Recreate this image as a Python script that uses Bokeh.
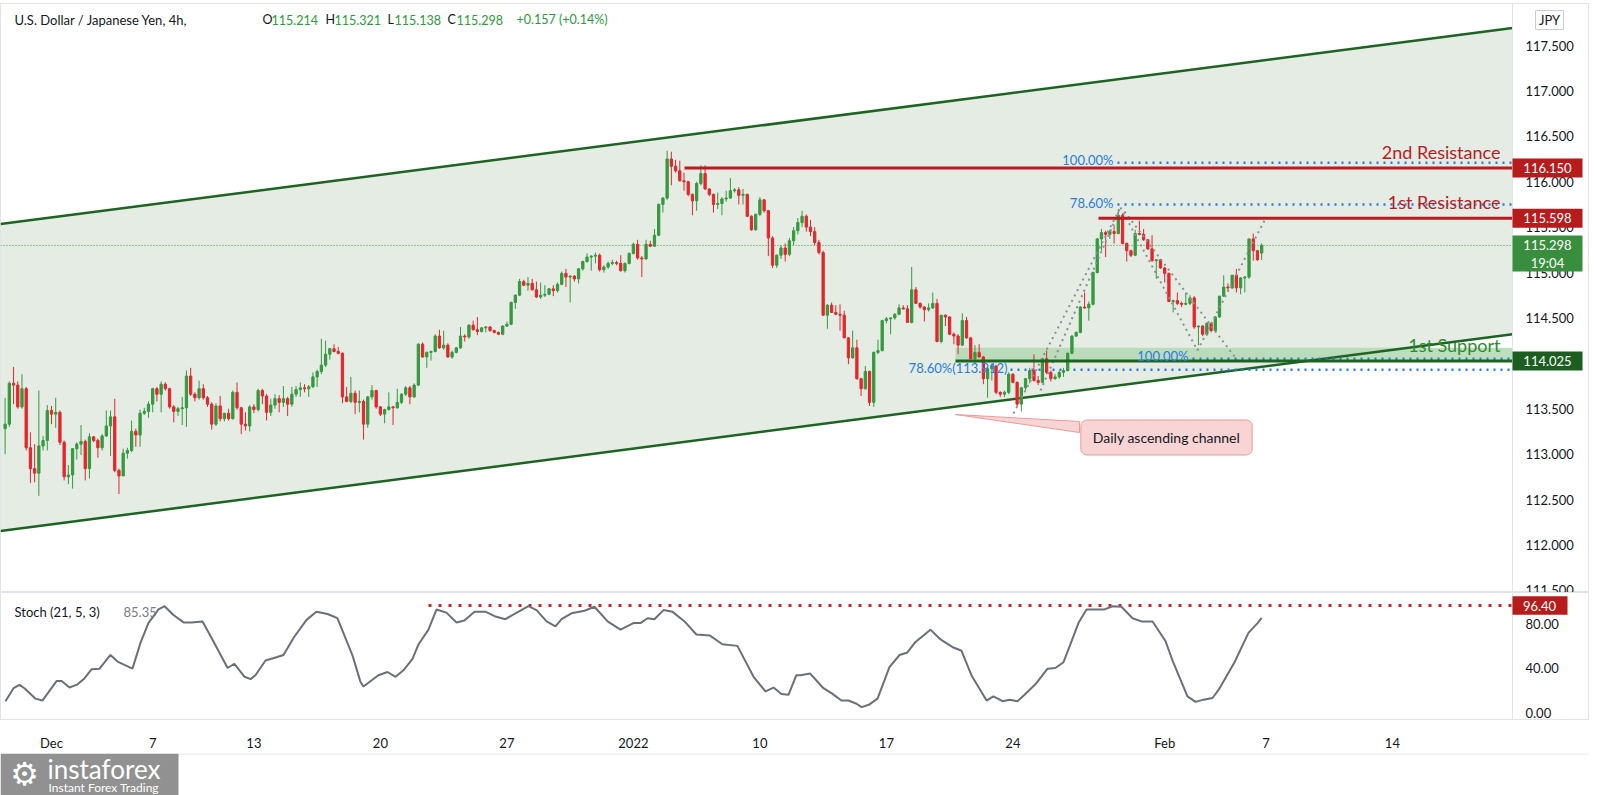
from bokeh.plotting import figure
from bokeh.layouts import column
from bokeh.models import Label, FixedTicker, Range1d, ColumnDataSource
from bokeh.core.properties import value
from bokeh.embed import file_html
from bokeh.resources import INLINE

# ---------------- DATA ----------------
bar_open = [
113.28,113.33,113.78,113.76,113.52,113.72,113.07,112.84,112.79,113.09,
113.15,113.48,113.44,113.46,113.13,112.75,112.77,113.06,113.11,113.14,
112.84,113.19,113.15,113.07,113.20,113.31,113.41,112.82,112.76,113.01,
113.04,113.25,113.21,113.45,113.47,113.55,113.72,113.66,113.77,113.72,
113.52,113.47,113.50,113.51,113.86,113.66,113.62,113.72,113.62,113.55,
113.33,113.53,113.39,113.45,113.39,113.68,113.51,113.33,113.31,113.52,
113.49,
113.70,113.64,113.46,113.54,113.61,113.57,113.61,113.55,113.66,113.71,
113.73,113.72,113.74,113.85,113.91,113.98,114.10,114.16,114.13,114.11,
113.63,113.58,113.67,113.57,113.58,113.33,113.63,113.70,113.52,113.44,
113.49,113.52,113.51,113.57,113.66,113.73,113.63,113.76,114.21,114.07,
114.12,114.13,114.30,114.17,114.20,114.07,114.12,114.17,114.30,114.29,
114.42,114.37,114.35,114.39,114.40,114.36,114.34,114.32,114.41,114.43,
114.67,114.75,
114.90,114.86,114.88,114.81,114.73,114.75,114.76,114.82,114.80,114.87,
114.99,114.95,114.96,114.93,115.04,115.12,115.17,115.18,115.19,115.03,
115.06,115.10,115.11,115.10,115.02,115.10,115.21,115.31,115.16,115.15,
115.31,115.29,115.41,115.75,115.82,116.25,116.17,116.12,116.01,116.00,
115.86,115.79,115.98,116.09,115.92,115.86,115.75,115.76,115.81,115.82,
115.90,115.91,115.85,115.86,115.62,115.47,115.64,115.80,115.68,
115.38,115.08,115.19,115.27,115.20,115.35,115.46,115.55,115.62,115.50,115.45,115.33,
115.22,114.53,114.64,114.56,114.54,114.53,114.28,114.06,114.17,113.83,
113.72,113.91,113.57,114.12,114.14,114.47,114.49,114.50,114.54,114.61,
114.60,114.45,114.81,114.66,114.62,114.59,114.61,114.66,114.24,114.53,
114.51,114.32,114.30,114.20,114.47,114.28,114.05,114.12,114.07,113.83,
113.94,113.97,113.68,113.66,113.68,113.88,113.79,
113.55,113.73,113.83,113.92,113.81,113.79,114.05,113.90,113.83,113.85,113.90,113.92,114.11,114.30,114.34,
114.62,114.61,114.65,115.00,115.37,115.44,115.42,115.45,115.43,115.63,
115.32,115.24,115.19,115.43,115.42,115.36,115.26,115.13,115.14,115.05,
114.99,114.68,114.69,114.66,114.65,114.66,114.72,114.40,114.41,114.32,
114.44,114.36,114.51,114.74,114.84,114.83,114.97,114.83,114.94,114.95,
115.37,115.24,115.214]

bar_close = [
113.33,113.78,113.76,113.52,113.72,113.07,112.84,112.79,113.09,113.15,
113.48,113.44,113.46,113.13,112.75,112.77,113.06,113.11,113.14,112.84,
113.19,113.15,113.07,113.20,113.31,113.41,112.82,112.76,113.01,113.04,
113.25,113.21,113.45,113.47,113.55,113.72,113.66,113.77,113.72,113.52,
113.47,113.50,113.51,113.86,113.66,113.62,113.72,113.62,113.55,113.33,
113.53,113.39,113.45,113.39,113.68,113.51,113.33,113.31,113.52,113.49,
113.70,
113.64,113.46,113.54,113.61,113.57,113.61,113.55,113.66,113.71,113.73,
113.72,113.74,113.85,113.91,113.98,114.10,114.16,114.13,114.11,113.63,
113.58,113.67,113.57,113.58,113.33,113.63,113.70,113.52,113.44,113.49,
113.52,113.51,113.57,113.66,113.73,113.63,113.76,114.21,114.07,114.12,
114.13,114.30,114.17,114.20,114.07,114.12,114.17,114.30,114.29,114.42,
114.37,114.35,114.39,114.40,114.36,114.34,114.32,114.41,114.43,114.67,
114.75,114.90,
114.86,114.88,114.81,114.73,114.75,114.76,114.82,114.80,114.87,114.99,
114.95,114.96,114.93,115.04,115.12,115.17,115.18,115.19,115.03,115.06,
115.10,115.11,115.10,115.02,115.10,115.21,115.31,115.16,115.15,115.31,
115.29,115.41,115.75,115.82,116.25,116.17,116.12,116.01,116.00,115.86,
115.79,115.98,116.09,115.92,115.86,115.75,115.76,115.81,115.82,115.90,
115.91,115.85,115.86,115.62,115.47,115.64,115.80,115.68,115.38,
115.08,115.19,115.27,115.20,115.35,115.46,115.55,115.62,115.50,115.45,115.33,115.22,
114.53,114.64,114.56,114.54,114.53,114.28,114.06,114.17,113.83,113.72,
113.91,113.57,114.12,114.14,114.47,114.49,114.50,114.54,114.61,114.60,
114.45,114.81,114.66,114.62,114.59,114.61,114.66,114.24,114.53,114.51,
114.32,114.30,114.20,114.47,114.28,114.05,114.12,114.07,113.83,113.94,
113.97,113.68,113.66,113.68,113.88,113.79,113.55,
113.73,113.83,113.92,113.81,113.79,114.05,113.90,113.83,113.85,113.90,113.92,114.11,114.30,114.34,114.62,
114.61,114.65,115.00,115.37,115.44,115.42,115.45,115.43,115.63,115.32,
115.24,115.19,115.43,115.42,115.36,115.26,115.13,115.14,115.05,114.99,
114.68,114.69,114.66,114.65,114.66,114.72,114.40,114.41,114.32,114.44,
114.36,114.51,114.74,114.84,114.83,114.97,114.83,114.94,114.95,115.37,
115.24,115.14,115.298]

bar_high = [
113.62,113.80,113.96,113.80,113.88,113.74,113.24,113.11,113.70,113.20,
113.54,113.53,113.62,113.48,113.15,112.88,113.06,113.13,113.32,113.16,
113.23,113.20,113.17,113.22,113.48,113.48,113.61,112.84,113.06,113.07,
113.37,113.28,113.49,113.51,113.58,113.73,113.74,113.80,113.79,113.73,
113.54,113.52,113.63,113.92,113.95,113.68,113.81,113.77,113.64,113.57,
113.56,113.64,113.45,113.50,113.70,113.79,113.52,113.46,113.54,113.55,
113.72,
113.72,113.66,113.61,113.66,113.65,113.75,113.63,113.74,113.75,113.79,
113.77,113.76,113.90,113.93,114.27,114.25,114.17,114.21,114.18,114.12,
113.74,113.85,113.70,113.70,113.60,113.64,113.76,113.71,113.53,113.50,
113.68,113.53,113.72,113.67,113.75,113.75,113.78,114.22,114.23,114.13,
114.14,114.32,114.37,114.36,114.22,114.14,114.18,114.40,114.32,114.43,
114.47,114.51,114.40,114.41,114.41,114.37,114.35,114.42,114.46,114.68,
114.76,114.93,
114.92,114.95,114.93,114.90,114.89,114.86,114.83,114.86,114.89,115.01,
115.04,114.97,114.97,115.05,115.13,115.21,115.19,115.22,115.21,115.08,
115.12,115.14,115.13,115.19,115.11,115.22,115.33,115.36,115.18,115.36,
115.35,115.48,115.76,115.83,116.34,116.33,116.24,116.23,116.10,116.01,
115.87,116.00,116.18,116.18,115.93,115.87,115.88,115.83,115.90,116.04,
115.93,115.94,115.92,115.87,115.63,115.65,115.83,115.81,115.69,
115.40,115.20,115.30,115.32,115.38,115.50,115.60,115.68,115.64,115.58,115.50,115.36,
115.24,114.65,114.67,114.64,114.65,114.58,114.29,114.36,114.26,113.84,
113.97,113.92,114.13,114.26,114.48,114.51,114.50,114.55,114.65,114.64,
114.64,115.06,114.84,114.67,114.63,114.66,114.78,114.71,114.53,114.54,
114.52,114.34,114.32,114.55,114.51,114.29,114.20,114.21,114.08,113.95,
114.00,113.98,113.69,113.70,113.90,113.89,113.80,
113.74,113.84,113.95,114.10,113.86,114.06,114.14,113.92,113.88,113.92,113.95,114.12,114.31,114.35,114.63,
114.78,114.68,115.01,115.38,115.48,115.46,115.47,115.52,115.70,115.65,
115.33,115.25,115.47,115.57,115.48,115.37,115.41,115.15,115.15,115.06,
115.00,114.70,114.78,114.68,114.78,114.75,114.74,114.42,114.42,114.45,
114.45,114.52,114.74,114.97,114.88,114.97,115.04,114.95,114.96,115.37,
115.43,115.25,115.321]

bar_low = [
113.00,113.30,113.55,113.50,113.50,113.04,112.68,112.69,112.54,113.04,
113.04,113.33,113.29,113.10,112.71,112.67,112.62,112.94,112.99,112.71,
112.73,113.13,112.96,113.04,113.19,112.98,112.80,112.56,112.76,112.95,
113.02,113.08,113.08,113.43,113.40,113.46,113.58,113.46,113.70,113.50,
113.35,113.42,113.32,113.30,113.64,113.58,113.60,113.60,113.52,113.27,
113.31,113.36,113.36,113.37,113.38,113.49,113.22,113.26,113.25,113.45,
113.47,
113.55,113.37,113.42,113.50,113.46,113.52,113.42,113.52,113.63,113.63,
113.68,113.63,113.73,113.74,113.88,113.96,114.04,114.12,114.10,113.56,
113.57,113.56,113.44,113.46,113.16,113.29,113.60,113.50,113.42,113.34,
113.48,113.32,113.50,113.55,113.64,113.55,113.62,113.75,114.06,113.95,
114.03,114.12,114.16,114.15,114.06,114.05,114.11,114.16,114.24,114.27,
114.36,114.31,114.34,114.34,114.35,114.33,114.31,114.31,114.40,114.42,
114.60,114.74,
114.85,114.80,114.80,114.72,114.71,114.73,114.75,114.74,114.78,114.86,
114.84,114.67,114.90,114.88,115.02,115.11,115.02,115.10,115.01,115.00,
115.04,115.08,115.08,115.01,115.00,115.09,115.20,115.14,114.95,115.14,
115.28,115.28,115.40,115.66,115.80,115.96,116.10,116.00,115.90,115.84,
115.63,115.68,115.96,115.91,115.84,115.66,115.70,115.63,115.78,115.81,
115.88,115.75,115.75,115.61,115.46,115.46,115.62,115.66,115.18,
115.05,115.05,115.15,115.12,115.18,115.30,115.42,115.50,115.45,115.40,115.30,115.20,
114.52,114.38,114.56,114.53,114.36,114.28,113.99,114.05,113.82,113.64,
113.71,113.53,113.52,114.10,114.13,114.44,114.32,114.48,114.53,114.59,
114.45,114.44,114.66,114.60,114.46,114.57,114.60,114.23,114.22,114.41,
114.31,114.21,114.10,114.19,114.27,114.04,113.99,114.06,113.77,113.62,
113.81,113.66,113.63,113.63,113.66,113.78,113.52,
113.47,113.70,113.78,113.80,113.76,113.78,113.88,113.80,113.82,113.83,113.85,113.91,114.10,114.29,114.33,
114.60,114.47,114.64,114.99,115.24,115.17,115.37,115.32,115.42,115.31,
115.12,115.17,115.18,115.41,115.35,115.25,115.12,114.93,115.04,114.89,
114.68,114.56,114.64,114.62,114.64,114.64,114.38,114.20,114.30,114.30,
114.34,114.35,114.50,114.73,114.80,114.82,114.78,114.76,114.78,114.93,
115.13,115.13,115.138]

# stochastic %K (21,5,3), sampled along the time axis (trading days since Nov 29)
stoch_day = [0.18,0.50,0.74,0.93,1.37,1.64,2.20,2.40,2.71,3.03,
3.30,3.58,3.90,4.33,4.61,5.20,5.52,5.83,6.23,6.47,
6.82,7.22,7.53,7.97,8.36,8.96,9.23,9.63,9.87,10.06,
10.46,10.89,11.17,11.57,12.08,12.47,12.91,13.30,13.90,14.21,
14.33,14.92,15.28,15.60,15.91,16.27,16.51,16.90,17.22,17.61,
18.01,18.32,18.72,19.15,19.55,19.94,20.34,20.85,21.17,21.57,
21.92,22.16,22.55,23.07,23.46,23.98,24.49,25.00,25.28,25.56,
25.83,26.19,26.54,27.02,27.49,28.01,28.52,29.11,29.75,30.22,
30.54,30.85,31.13,31.44,31.60,31.99,32.51,32.83,33.22,33.50,
33.82,34.02,34.33,34.65,35.12,35.52,35.83,36.15,36.74,37.14,
37.65,37.97,38.36,38.96,39.23,39.59,39.87,40.18,40.46,40.89,
41.37,41.68,42.00,42.20,42.59,42.91,43.30,43.62,43.94,44.29,
44.73,45.08,45.52,46.03,46.31,46.90,47.22,47.53,47.89,48.13,
48.76,49.31,49.67,49.83]
stoch_val = [10.3,22.0,25.0,22.0,12.6,10.9,28.4,28.4,22.6,25.5,
30.8,39.0,39.6,51.9,46.0,39.6,63.0,80.6,92.9,95.8,
87.9,81.2,81.2,82.1,65.9,40.2,44.0,32.3,30.2,33.7,
46.9,49.8,51.9,67.4,83.5,90.9,88.8,85.0,51.3,27.9,
23.5,33.7,36.6,32.3,38.1,48.4,61.6,74.7,92.9,90.0,
81.2,83.0,90.9,90.9,86.5,84.1,89.4,95.8,92.3,82.1,
77.7,84.1,89.4,91.7,95.3,82.1,74.7,80.6,80.6,85.0,
84.1,92.3,90.9,82.1,70.3,69.5,61.6,60.1,32.3,19.1,
22.6,16.8,16.1,33.7,33.7,35.2,22.0,17.6,10.9,10.9,
8.0,5.0,7.4,12.6,41.0,51.9,54.2,63.6,74.7,65.9,
58.6,55.7,33.7,10.9,14.7,10.3,11.7,10.3,16.1,25.5,
39.6,40.2,45.4,57.2,80.6,92.9,92.9,92.9,95.8,95.3,
85.0,82.1,82.1,64.5,46.9,14.7,9.7,11.7,13.2,20.5,
45.4,71.8,80.6,85.35]

tick_days = [2, 6, 10, 15, 20, 25, 30, 35, 40, 46, 50, 55]
tick_labels = ["Dec", "7", "13", "20", "27", "2022", "10", "17", "24", "Feb", "7", "14"]
price_ticks = [111.5, 112.0, 112.5, 113.0, 113.5, 114.0, 114.5, 115.0, 115.5, 116.0, 116.5, 117.0, 117.5]
stoch_ticks = [0, 40, 80]

channel_upper = [115.533, 117.692]
channel_lower = [112.153, 114.321]
resistance_2 = 116.150
resistance_1 = 115.598
support_1 = 114.025
support_zone_top = 114.17
last_price = 115.298
last_countdown = "19:04"
fib_upper_100 = 116.21
fib_upper_786 = 115.75
fib_lower_100 = 114.05
fib_lower_786 = 113.93
stoch_level = 96.40
stoch_last = 85.35
header_ohlc = [("O", "115.214"), ("H", "115.321"), ("L", "115.138"), ("C", "115.298")]
header_change = "+0.157 (+0.14%)"

# ---------------- GEOMETRY HELPERS (screen px -> data) ----------------
X_PER_DAY = 25.3
X0 = 0.4
PX_PER_PRICE = 90.8
PX_PER_STOCH = 1.1375
def xd(px):
    return (px - X0) / X_PER_DAY
def yp(py):
    return 117.5 - (py - 45) / PX_PER_PRICE
def ys(py):
    return (715 - py) / PX_PER_STOCH

FONT = "Lato"
GREEN = "#36983f"
RED = "#e4262c"
RES_RED = "#bb1a1f"
SUP_GREEN = "#1d6321"
FIB_BLUE = "#2a7be0"
TXT = "#131722"
GRID = "#e0e3eb"
W = 1589
AXL = 1512   # price-scale separator

def lab(fig, x, y, text, color=TXT, size="13px", align="left", font=FONT, **kw):
    fig.add_layout(Label(x=x, y=y, text=text, text_color=color, text_font=font,
                         text_font_size=size, text_align=align, text_baseline="middle", **kw))

# ---------------- MAIN PRICE PANE ----------------
p = figure(width=W, height=592, output_backend="svg", toolbar_location=None,
           x_range=Range1d(xd(0), xd(W)), y_range=Range1d(yp(592), yp(3)),
           x_axis_location=None, y_axis_location=None,
           min_border_left=0, min_border_right=0, min_border_top=3, min_border_bottom=0)
p.grid.visible = False
p.outline_line_color = GRID

ch_x = [xd(0), xd(AXL)]
p.varea(x=ch_x, y1=channel_lower, y2=channel_upper, fill_color="#e4ece4", fill_alpha=1.0)
p.quad(left=xd(955), right=xd(AXL), bottom=support_1, top=support_zone_top,
       fill_color="#b5dab5", fill_alpha=0.9, line_color=None)
p.line(ch_x, channel_upper, line_color=SUP_GREEN, line_width=2.5)
p.line(ch_x, channel_lower, line_color=SUP_GREEN, line_width=2.5)

p.line([xd(0), xd(AXL)], [last_price, last_price], line_color=GREEN, line_width=1, line_dash="1 2")

for lvl, start in [(fib_upper_100, 1117), (fib_upper_786, 1117), (fib_lower_100, 1192), (fib_lower_786, 1010)]:
    p.line([xd(start), xd(AXL)], [lvl, lvl], line_color=FIB_BLUE, line_width=2.5, line_dash="2 5")

n = len(bar_close)
bar_day = [(i + 1) / 6 for i in range(n)]
colors = [GREEN if c >= o else RED for o, c in zip(bar_open, bar_close)]
src = ColumnDataSource(dict(x=bar_day, h=bar_high, l=bar_low,
                            top=[max(o, c) for o, c in zip(bar_open, bar_close)],
                            bottom=[min(o, c) for o, c in zip(bar_open, bar_close)],
                            color=colors))
p.segment(x0="x", y0="l", x1="x", y1="h", line_color="color", line_width=1, source=src)
p.vbar(x="x", width=0.09, top="top", bottom="bottom", fill_color="color", line_color="color",
       line_width=1, source=src)

pat_xs = [[xd(1013), xd(1120)], [xd(1040), xd(1118)], [xd(1120), xd(1197)],
          [xd(1124), xd(1237)], [xd(1197), xd(1265)]]
pat_ys = [[yp(413), yp(207)], [yp(390), yp(212)], [yp(207), yp(350)],
          [yp(211), yp(360)], [yp(350), yp(218)]]
p.multi_line(pat_xs, pat_ys, line_color="#8c8e98", line_width=2, line_dash="2 4")

p.line([xd(684), xd(AXL)], [resistance_2, resistance_2], line_color=RES_RED, line_width=3)
p.line([xd(1098), xd(AXL)], [resistance_1, resistance_1], line_color=RES_RED, line_width=3)
p.line([xd(955), xd(AXL)], [support_1, support_1], line_color=SUP_GREEN, line_width=3)

p.patch([xd(955), xd(1079), xd(1079)], [yp(414), yp(421), yp(432)],
        fill_color="#f8d4d5", line_color="#ea9a9c", line_width=1)
lab(p, xd(1166), yp(437), "Daily ascending channel", size="14px", align="center",
    background_fill_color="#f8d4d5", border_line_color="#ea9a9c",
    border_radius=6, padding=dict(left=12, right=12, top=9, bottom=9))

lab(p, xd(1500), yp(151), "2nd Resistance", color=RES_RED, size="18px", align="right")
lab(p, xd(1500), yp(201), "1st Resistance", color=RES_RED, size="18px", align="right")
lab(p, xd(1500), yp(344), "1st Support", color="#2e8b30", size="18px", align="right")

lab(p, xd(1113), yp(159), "100.00%", color=FIB_BLUE, align="right")
lab(p, xd(1113), yp(202), "78.60%", color=FIB_BLUE, align="right")
lab(p, xd(1188), yp(355), "100.00%", color=FIB_BLUE, align="right")
lab(p, xd(1007), yp(367), "78.60%(113.912)", color=FIB_BLUE, align="right")

# header legend
lab(p, xd(14), yp(19), "U.S. Dollar / Japanese Yen, 4h,", size="13px")
for (letter, val), px in zip(header_ohlc, [262, 325, 387, 447]):
    lab(p, xd(px), yp(19), letter, size="12.5px")
    lab(p, xd(px + (9 if letter != "L" else 7)), yp(19), val, color="#2a9a3a", size="12.5px")
lab(p, xd(516), yp(19), header_change, color="#2a9a3a", size="12.5px")

# price scale (drawn inside the canvas so the value tags can sit over it)
p.line([xd(AXL), xd(AXL)], [yp(592), yp(3)], line_color=GRID, line_width=1)
p.text(x=[xd(1525)] * len(price_ticks), y=price_ticks, text=[f"{t:.3f}" for t in price_ticks],
       text_font=value(FONT), text_font_size="13px", text_color=TXT, text_baseline="middle")

half = 9.5 / PX_PER_PRICE
tag_lv = [resistance_2, resistance_1, support_1]
tag_col = ["#b71c1c", "#b71c1c", "#1b5e20"]
p.quad(left=[xd(AXL)] * 3, right=[xd(1582)] * 3, top=[v + half for v in tag_lv],
       bottom=[v - half for v in tag_lv], fill_color=tag_col, line_color=None)
p.text(x=[xd(1547)] * 3, y=tag_lv, text=[f"{v:.3f}" for v in tag_lv], text_font=value(FONT),
       text_font_size="13px", text_color="white", text_baseline="middle", text_align="center")
p.quad(left=xd(AXL), right=xd(1582), top=yp(235), bottom=yp(271), fill_color="#388e3c", line_color=None)
p.text(x=[xd(1547), xd(1547)], y=[yp(244), yp(262)], text=[f"{last_price:.3f}", last_countdown],
       text_font=value(FONT), text_font_size="13px", text_color="white", text_baseline="middle",
       text_align="center")
p.quad(left=xd(1535), right=xd(1563), top=yp(10), bottom=yp(29), fill_color="white",
       line_color="#c9ccd4", line_width=1)
p.text(x=[xd(1549)], y=[yp(19.5)], text=["JPY"], text_font=value(FONT), text_font_size="13px",
       text_color=TXT, text_baseline="middle", text_align="center")

# ---------------- STOCH PANE ----------------
s = figure(width=W, height=161, output_backend="svg", toolbar_location=None,
           x_range=p.x_range, y_range=Range1d(ys(722), ys(592)),
           x_axis_location="below", y_axis_location=None,
           min_border_left=0, min_border_right=0, min_border_top=0, min_border_bottom=31)
s.grid.visible = False
s.outline_line_color = GRID

sx = s.xaxis[0]
sx.ticker = FixedTicker(ticks=tick_days)
sx.major_label_overrides = {d: t for d, t in zip(tick_days, tick_labels)}
sx.major_tick_line_color = None
sx.minor_tick_line_color = None
sx.axis_line_color = GRID
sx.major_label_text_font = FONT
sx.major_label_text_font_size = "13px"
sx.major_label_text_color = TXT
sx.major_label_standoff = 9

s.line([xd(428), xd(AXL)], [stoch_level, stoch_level], line_color="#c62828", line_width=3, line_dash="3 7")
s.line(stoch_day, stoch_val, line_color="#6c6f7b", line_width=2)

lab(s, xd(14), ys(612), "Stoch (21, 5, 3)", size="13px")
lab(s, xd(123), ys(612), f"{stoch_last:.2f}", color="#787b86", size="13px")

s.line([xd(AXL), xd(AXL)], [ys(722), ys(592)], line_color=GRID, line_width=1)
s.text(x=[xd(1525)] * len(stoch_ticks), y=stoch_ticks, text=[f"{t:.2f}" for t in stoch_ticks],
       text_font=value(FONT), text_font_size="13px", text_color=TXT, text_baseline="middle")
sh = 9.5 / PX_PER_STOCH
s.quad(left=xd(AXL), right=xd(1567), top=stoch_level + sh, bottom=stoch_level - sh,
       fill_color="#b71c1c", line_color=None)
s.text(x=[xd(1539)], y=[stoch_level], text=[f"{stoch_level:.2f}"], text_font=value(FONT),
       text_font_size="13px", text_color="white", text_baseline="middle", text_align="center")

# ---------------- FOOTER (watermark) ----------------
f = figure(width=W, height=42, output_backend="svg", toolbar_location=None,
           x_range=Range1d(0, W), y_range=Range1d(795, 753),
           x_axis_location=None, y_axis_location=None,
           min_border_left=0, min_border_right=0, min_border_top=0, min_border_bottom=0)
f.grid.visible = False
f.outline_line_color = None
f.line([0, W], [753.5, 753.5], line_color=GRID, line_width=1)
f.quad(left=0, right=178, top=753, bottom=795, fill_color="#8b8b8b", line_color=None, fill_alpha=0.95)
f.text(x=[24], y=[773], text=["\u2699"], text_font=value("DejaVu Sans"), text_font_size="32px",
       text_color="white", text_baseline="middle", text_align="center")
f.text(x=[47], y=[768], text=["instaforex"], text_font=value(FONT), text_font_size="26px",
       text_color="white", text_baseline="middle")
f.text(x=[48], y=[787], text=["Instant Forex Trading"], text_font=value(FONT), text_font_size="12px",
       text_color="white", text_baseline="middle")

layout = column(p, s, f, spacing=0)
open("out.html", "w").write(file_html(layout, INLINE))
